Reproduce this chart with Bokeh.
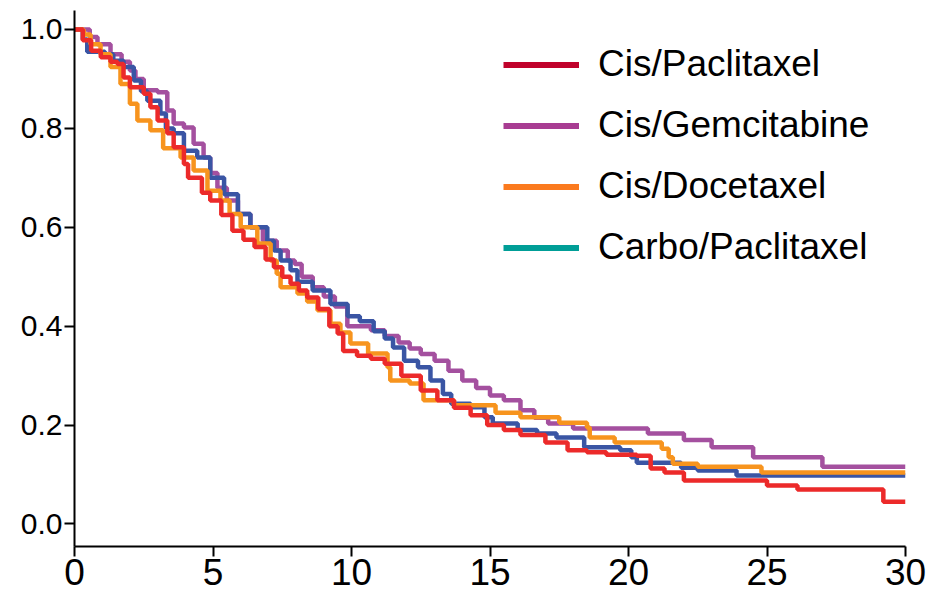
from bokeh.plotting import figure
from bokeh.models import Range1d, FixedTicker, Legend, LegendItem
from bokeh.embed import file_html
from bokeh.resources import INLINE

# ---- data (time in months, survival probability) ----
x_ticks = [0, 5, 10, 15, 20, 25, 30]
y_ticks = [0.0, 0.2, 0.4, 0.6, 0.8, 1.0]
y_tick_labels = ["0.0", "0.2", "0.4", "0.6", "0.8", "1.0"]

series_names = ["Cis/Paclitaxel", "Cis/Gemcitabine", "Cis/Docetaxel", "Carbo/Paclitaxel"]

cis_paclitaxel = [
    (0, 1.0), (0.3, 0.978), (0.6, 0.957), (0.95, 0.944), (1.3, 0.935), (1.55, 0.93),
    (1.77, 0.903), (2.0, 0.883), (2.5, 0.87), (2.74, 0.843), (3.0, 0.816), (3.35, 0.79),
    (3.58, 0.762), (3.95, 0.728), (4.1, 0.70), (4.6, 0.67), (4.9, 0.654), (5.3, 0.625),
    (5.7, 0.593), (6.1, 0.575), (6.5, 0.56), (6.9, 0.535), (7.2, 0.519), (7.5, 0.5),
    (7.8, 0.486), (8.1, 0.472), (8.4, 0.458), (8.8, 0.435), (9.2, 0.40), (9.5, 0.385),
    (9.7, 0.35), (10.2, 0.34), (10.7, 0.334), (11.2, 0.324), (11.8, 0.30), (12.5, 0.27),
    (13.1, 0.25), (13.7, 0.235), (14.3, 0.22), (14.9, 0.2), (15.5, 0.19), (16.1, 0.18),
    (17.0, 0.165), (17.8, 0.149), (18.5, 0.145), (19.2, 0.14), (20.3, 0.138), (20.8, 0.112),
    (21.3, 0.104), (22.0, 0.088), (25.0, 0.078), (26.1, 0.07), (29.2, 0.045), (30.0, 0.045),
]

cis_gemcitabine = [
    (0, 1.0), (0.55, 0.985), (0.83, 0.97), (1.3, 0.95), (1.7, 0.935), (2.0, 0.917),
    (2.2, 0.9), (2.5, 0.877), (3.0, 0.873), (3.35, 0.836), (3.58, 0.81), (3.95, 0.802),
    (4.3, 0.769), (4.66, 0.741), (4.9, 0.71), (5.16, 0.68), (5.5, 0.654), (5.9, 0.627),
    (6.35, 0.60), (6.8, 0.573), (7.3, 0.553), (7.7, 0.533), (7.95, 0.526), (8.2, 0.50),
    (8.6, 0.479), (9.0, 0.46), (9.4, 0.44), (9.85, 0.40), (10.7, 0.392), (11.2, 0.38),
    (11.7, 0.367), (12.1, 0.355), (12.5, 0.344), (13.0, 0.33), (13.5, 0.31), (14.0, 0.29),
    (14.5, 0.275), (15.0, 0.26), (15.5, 0.25), (16.1, 0.23), (16.6, 0.215), (17.1, 0.203),
    (18.0, 0.193), (20.7, 0.183), (22.0, 0.17), (23.0, 0.155), (24.5, 0.135), (27.0, 0.116),
    (30.0, 0.116),
]

cis_docetaxel = [
    (0, 1.0), (0.33, 0.99), (0.58, 0.97), (0.94, 0.95), (1.3, 0.924), (1.66, 0.89),
    (2.0, 0.85), (2.27, 0.816), (2.74, 0.796), (3.2, 0.76), (3.83, 0.741), (4.3, 0.715),
    (4.8, 0.674), (5.27, 0.654), (5.6, 0.627), (6.0, 0.60), (6.6, 0.567), (7.08, 0.533),
    (7.3, 0.506), (7.44, 0.479), (8.05, 0.466), (8.4, 0.45), (8.77, 0.432), (9.24, 0.405),
    (9.6, 0.387), (9.96, 0.365), (10.6, 0.345), (11.3, 0.317), (11.4, 0.29), (12.1, 0.284),
    (12.6, 0.25), (13.7, 0.24), (15.2, 0.225), (16.1, 0.216), (17.5, 0.205), (18.5, 0.195),
    (18.6, 0.175), (19.5, 0.165), (21.2, 0.152), (21.45, 0.135), (21.6, 0.122), (22.5, 0.116),
    (24.8, 0.104), (30.0, 0.104),
]

carbo_paclitaxel = [
    (0, 1.0), (0.3, 0.98), (0.46, 0.955), (1.1, 0.95), (1.4, 0.937), (1.77, 0.924),
    (2.14, 0.897), (2.4, 0.875), (2.63, 0.856), (3.1, 0.83), (3.3, 0.80), (3.58, 0.79),
    (3.95, 0.755), (4.43, 0.741), (4.9, 0.70), (5.4, 0.667), (5.9, 0.627), (6.35, 0.60),
    (6.96, 0.573), (7.2, 0.553), (7.44, 0.533), (7.8, 0.513), (8.05, 0.49), (8.6, 0.472),
    (9.24, 0.445), (9.86, 0.42), (10.3, 0.41), (10.8, 0.39), (11.2, 0.375), (11.5, 0.357),
    (11.9, 0.33), (12.4, 0.317), (12.85, 0.29), (13.3, 0.263), (13.6, 0.243), (14.3, 0.236),
    (14.8, 0.216), (15.1, 0.203), (16.0, 0.19), (16.7, 0.183), (17.4, 0.175), (18.4, 0.155),
    (19.7, 0.149), (20.1, 0.135), (20.3, 0.124), (21.9, 0.114), (22.5, 0.108), (23.9, 0.098),
    (30.0, 0.098),
]

line_colors = ["#ec2a2a", "#a4509f", "#f7941e", "#3a55a4"]
legend_colors = ["#c0022b", "#a83c92", "#fb7a1e", "#009e97"]
all_series = [cis_paclitaxel, cis_gemcitabine, cis_docetaxel, carbo_paclitaxel]

FONT = "Liberation Sans"

p = figure(width=931, height=593, output_backend="svg", toolbar_location=None,
           x_range=Range1d(0, 30), y_range=Range1d(-0.0455, 1.0384),
           min_border_left=74, min_border_right=26, min_border_top=10, min_border_bottom=47)
p.outline_line_color = None
p.xgrid.visible = False
p.ygrid.visible = False

# drawing order: purple, blue, orange, red (red on top)
for idx in [1, 3, 2, 0]:
    data = all_series[idx]
    t = [d[0] for d in data]
    s = [d[1] for d in data]
    p.step(x=t, y=s, mode="after", line_color=line_colors[idx], line_width=4.5)

# legend (uses its own colours, as in the original)
nan = float("nan")
dummies = [p.line(x=[nan], y=[nan], line_color=c, line_width=6) for c in legend_colors]
legend = Legend(
    items=[LegendItem(label=n, renderers=[r]) for n, r in zip(series_names, dummies)],
    location=(429, 278), padding=0, margin=0, border_line_color=None,
    background_fill_alpha=0, glyph_width=76, glyph_height=39, label_height=39,
    spacing=19, label_standoff=19, label_text_font=FONT, label_text_font_size="37px",
    label_text_baseline="alphabetic", label_text_color="black",
)
p.add_layout(legend)

p.xaxis.ticker = FixedTicker(ticks=x_ticks)
p.yaxis.ticker = FixedTicker(ticks=y_ticks)
p.yaxis.major_label_overrides = {v: lab for v, lab in zip(y_ticks, y_tick_labels)}
for ax in (p.xaxis, p.yaxis):
    ax.axis_line_width = 2
    ax.axis_line_color = "black"
    ax.major_tick_line_width = 2
    ax.major_tick_line_color = "black"
    ax.major_tick_in = 0
    ax.major_tick_out = 10
    ax.minor_tick_line_color = None
    ax.major_label_text_font = FONT
    ax.major_label_text_color = "black"
p.xaxis.major_label_standoff = 2
p.xaxis.major_label_text_font_size = "37px"
p.yaxis.major_label_standoff = 2
p.yaxis.major_label_text_font_size = "30px"

open("out.html", "w").write(file_html(p, INLINE))
